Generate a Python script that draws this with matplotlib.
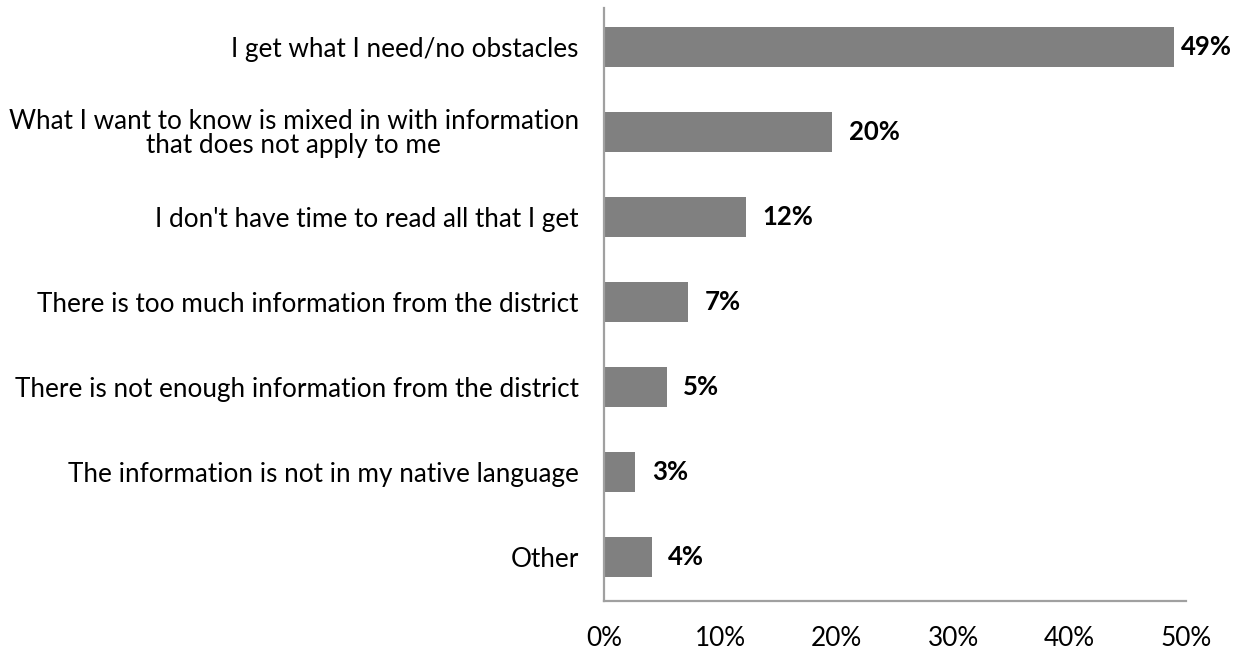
import matplotlib.pyplot as plt
from matplotlib.ticker import FuncFormatter

categories = [
    "I get what I need/no obstacles",
    "What I want to know is mixed in with information\nthat does not apply to me",
    "I don't have time to read all that I get",
    "There is too much information from the district",
    "There is not enough information from the district",
    "The information is not in my native language",
    "Other",
]
values = [49.0, 19.6, 12.2, 7.2, 5.4, 2.7, 4.1]
x_ticks = [0, 10, 20, 30, 40, 50]

plt.rcParams["font.family"] = ["Lato", "DejaVu Sans"]

fig = plt.figure(figsize=(12.45, 6.51), dpi=100)
ax = fig.add_axes([0.485, 0.077, 0.4675, 0.911])

pos = list(range(len(categories)))
bars = ax.barh(pos, values, height=0.47, color="#808080")

# the longest bar's label is pushed in close so it stays inside the figure
for b, v in zip(bars, values):
    off = 5 if v == max(values) else 12
    ax.annotate(f"{round(v):.0f}%", (b.get_width(), b.get_y() + b.get_height() / 2),
                xytext=(off, 0), textcoords="offset points",
                va="center", ha="left", fontsize=18.5, fontweight="bold")

ax.set_xlim(0, 50)
ax.set_ylim(6.52, -0.46)
ax.set_xticks(x_ticks)
ax.xaxis.set_major_formatter(FuncFormatter(lambda x, _: f"{x:.0f}%"))
ax.set_yticks(pos)
ax.set_yticklabels(categories, multialignment="center", linespacing=0.95)
ax.tick_params(axis="both", length=0, labelsize=18.8)
ax.tick_params(axis="x", pad=18)
ax.tick_params(axis="y", pad=18)

for side in ["top", "right"]:
    ax.spines[side].set_visible(False)
for side in ["left", "bottom"]:
    ax.spines[side].set_color("#a0a0a0")
    ax.spines[side].set_linewidth(1.6)

fig.savefig("out.png", dpi=100)
